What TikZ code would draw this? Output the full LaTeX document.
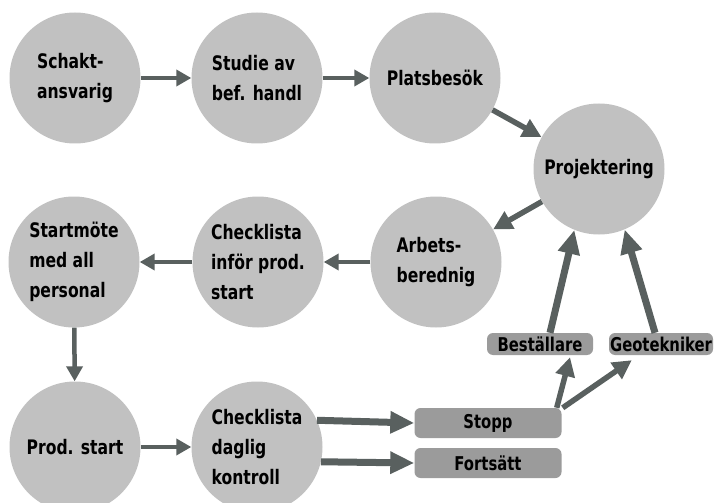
\documentclass[tikz,border=0pt]{standalone}
\usepackage{fontspec}
\setmainfont{DejaVu Sans}[FakeStretch=0.78]
\usetikzlibrary{arrows.meta}
\definecolor{circgray}{HTML}{C1C1C1}
\definecolor{boxgray}{HTML}{9B9B9B}
\definecolor{arrowgray}{HTML}{59605F}
\begin{document}
\begin{tikzpicture}[x=1pt, y=-1pt,
    stage/.style={circle, fill=circgray, minimum size=131pt, inner sep=0pt, align=left, font=\bfseries\fontsize{20}{30}\selectfont},
    tag/.style={rounded corners=6pt, fill=boxgray, inner sep=0pt, font=\bfseries\fontsize{19}{22}\selectfont},
    flow/.style={draw=arrowgray, line width=4.5pt, -{Triangle[length=15pt,width=16pt]}},
    midflow/.style={draw=arrowgray, line width=5.5pt, -{Triangle[length=19pt,width=19pt]}},
    bigflow/.style={draw=arrowgray, line width=7pt, -{Triangle[length=24pt,width=21pt]}}]
    \useasboundingbox (0,0) rectangle (716,503);
    \clip (0,0) rectangle (716,503);
    % circles
    \node[stage] (schakt) at (75,78) {Schakt-\\ansvarig};
    \node[stage] (studie) at (257,78) {Studie av\\bef. handl};
    \node[stage] (plats) at (435,78) {Platsbesök};
    \node[stage] (proj) at (599,169) {Projektering};
    \node[stage] (arbets) at (436,262) {Arbets-\\berednig};
    \node[stage] (inför) at (258,262) {Checklista\\inför prod.\\start};
    \node[stage] (startm) at (74,262) {Startmöte\\med all\\personal};
    \node[stage] (prod) at (75,447) {Prod. start};
    \node[stage] (daglig) at (257,447) {Checklista\\daglig\\kontroll};
    % boxes
    \node[tag, minimum width=106pt, minimum height=22pt] (best) at (540,344) {Beställare};
    \node[tag, minimum width=104pt, minimum height=22pt] (geo) at (661,344) {Geotekniker};
    \node[tag, minimum width=147pt, minimum height=30pt] (stopp) at (488,423) {Stopp};
    \node[tag, minimum width=147pt, minimum height=30pt] (forts) at (488,463) {Fortsätt};
    % arrows
    \draw[flow] (schakt) -- (studie);
    \draw[flow] (studie) -- (plats);
    \draw[midflow] (plats) -- (proj);
    \draw[midflow] (proj) -- (arbets);
    \draw[flow] (arbets) -- (inför);
    \draw[flow] (inför) -- (startm);
    \draw[flow] (startm) -- (prod);
    \draw[flow] (prod) -- (daglig);
    \draw[bigflow] (daglig.24) -- (stopp.west);
    \draw[bigflow] (daglig.-13) -- (forts.west);
    \draw[midflow] ([xshift=-5pt]stopp.north east) -- ([xshift=30pt,yshift=-2pt]best.south);
    \draw[midflow] ([xshift=1pt]stopp.north east) -- ([xshift=23pt,yshift=-5pt]geo.south west);
    \draw[bigflow] ([xshift=10pt]best.north) -- (proj.-112);
    \draw[bigflow] ([xshift=-6pt]geo.north) -- (proj.-67);
\end{tikzpicture}
\end{document}
